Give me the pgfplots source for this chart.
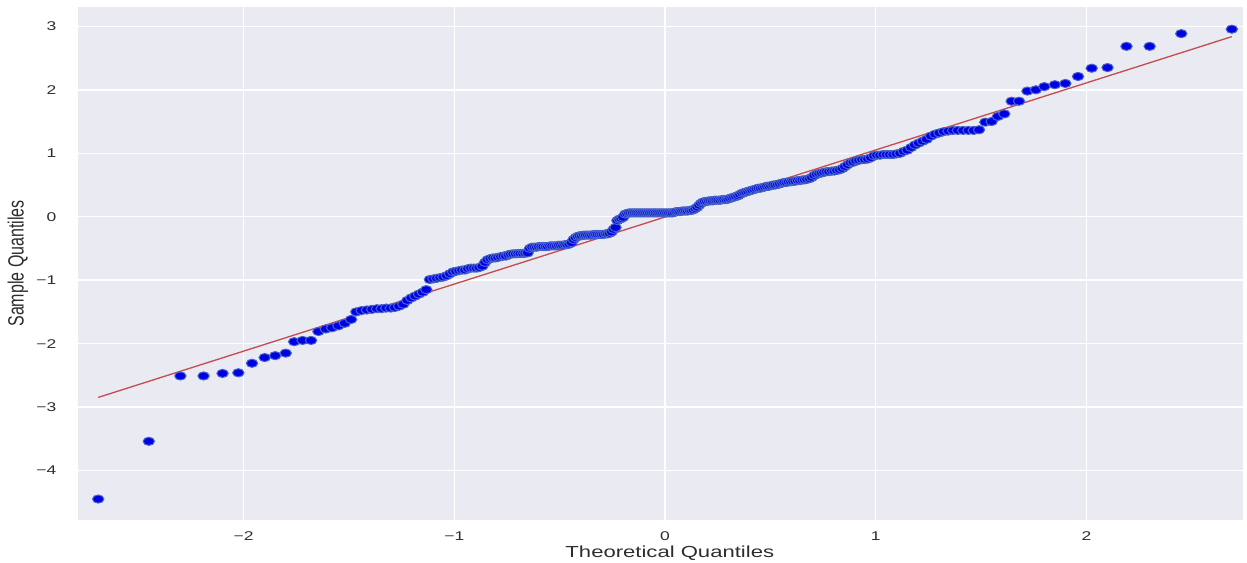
\documentclass[border=0pt]{standalone}
\usepackage{fontspec}
\setmainfont{Liberation Sans}
\usepackage{pgfplots}
\usepackage{pgfplotstable}
\pgfplotsset{compat=1.18}
\definecolor{bgc}{RGB}{234,234,242}
\definecolor{linec}{RGB}{196,78,82}
\definecolor{facec}{RGB}{0,0,230}
\definecolor{edgec}{RGB}{70,100,200}
\definecolor{txtc}{RGB}{45,45,45}
\pgfplotstableread{
x y
-2.690 -4.45
-2.450 -3.54
-2.300 -2.51
-2.190 -2.51
-2.100 -2.47
-2.025 -2.46
-1.960 -2.31
-1.900 -2.22
-1.850 -2.19
-1.800 -2.15
-1.760 -1.97
-1.720 -1.95
-1.680 -1.95
-1.645 -1.81
-1.610 -1.77
-1.580 -1.75
-1.550 -1.72
-1.520 -1.68
-1.490 -1.62
-1.465 -1.50
-1.440 -1.48
-1.415 -1.47
-1.390 -1.46
-1.367 -1.45
-1.345 -1.45
-1.323 -1.44
-1.302 -1.44
-1.282 -1.43
-1.262 -1.41
-1.242 -1.38
-1.223 -1.32
-1.204 -1.28
-1.186 -1.25
-1.168 -1.22
-1.150 -1.19
-1.133 -1.15
-1.116 -0.99
-1.099 -0.98
-1.083 -0.97
-1.067 -0.96
-1.052 -0.95
-1.036 -0.93
-1.021 -0.90
-1.006 -0.87
-0.992 -0.86
-0.977 -0.85
-0.963 -0.84
-0.949 -0.84
-0.935 -0.82
-0.921 -0.81
-0.907 -0.81
-0.894 -0.81
-0.881 -0.80
-0.867 -0.78
-0.854 -0.72
-0.842 -0.68
-0.829 -0.66
-0.816 -0.65
-0.804 -0.65
-0.792 -0.64
-0.779 -0.63
-0.767 -0.62
-0.755 -0.62
-0.743 -0.60
-0.732 -0.59
-0.720 -0.585
-0.708 -0.585
-0.697 -0.58
-0.686 -0.58
-0.674 -0.58
-0.663 -0.575
-0.652 -0.57
-0.641 -0.50
-0.630 -0.48
-0.619 -0.48
-0.608 -0.48
-0.598 -0.47
-0.587 -0.47
-0.577 -0.47
-0.566 -0.47
-0.556 -0.47
-0.545 -0.46
-0.535 -0.46
-0.524 -0.46
-0.514 -0.46
-0.504 -0.45
-0.494 -0.45
-0.484 -0.45
-0.474 -0.44
-0.464 -0.44
-0.454 -0.43
-0.444 -0.41
-0.434 -0.36
-0.424 -0.33
-0.414 -0.31
-0.405 -0.30
-0.395 -0.30
-0.385 -0.29
-0.376 -0.29
-0.366 -0.29
-0.356 -0.29
-0.347 -0.29
-0.337 -0.28
-0.328 -0.28
-0.319 -0.28
-0.309 -0.28
-0.300 -0.28
-0.291 -0.28
-0.281 -0.27
-0.272 -0.27
-0.263 -0.26
-0.253 -0.24
-0.244 -0.20
-0.235 -0.17
-0.226 -0.06
-0.217 -0.04
-0.208 -0.03
-0.199 -0.01
-0.189 0.04
-0.180 0.05
-0.171 0.06
-0.162 0.06
-0.153 0.06
-0.144 0.06
-0.135 0.06
-0.126 0.06
-0.117 0.06
-0.108 0.06
-0.099 0.06
-0.090 0.06
-0.081 0.06
-0.072 0.06
-0.063 0.06
-0.054 0.06
-0.045 0.06
-0.036 0.06
-0.027 0.06
-0.018 0.06
-0.009 0.06
0.000 0.06
0.009 0.06
0.018 0.06
0.027 0.06
0.036 0.06
0.045 0.07
0.054 0.08
0.063 0.08
0.072 0.08
0.081 0.09
0.090 0.09
0.099 0.09
0.108 0.09
0.117 0.10
0.126 0.10
0.135 0.11
0.144 0.13
0.153 0.15
0.162 0.18
0.171 0.21
0.180 0.23
0.189 0.24
0.199 0.24
0.208 0.25
0.217 0.25
0.226 0.25
0.235 0.26
0.244 0.26
0.253 0.26
0.263 0.26
0.272 0.27
0.281 0.27
0.291 0.27
0.300 0.28
0.309 0.29
0.319 0.30
0.328 0.31
0.337 0.32
0.347 0.33
0.356 0.35
0.366 0.37
0.376 0.38
0.385 0.39
0.395 0.40
0.405 0.41
0.414 0.42
0.424 0.43
0.434 0.44
0.444 0.45
0.454 0.45
0.464 0.46
0.474 0.47
0.484 0.48
0.494 0.48
0.504 0.49
0.514 0.50
0.524 0.50
0.535 0.51
0.545 0.52
0.556 0.53
0.566 0.54
0.577 0.54
0.587 0.55
0.598 0.55
0.608 0.56
0.619 0.56
0.630 0.57
0.641 0.57
0.652 0.58
0.663 0.58
0.674 0.59
0.686 0.60
0.697 0.62
0.708 0.65
0.720 0.67
0.732 0.68
0.743 0.69
0.755 0.70
0.767 0.71
0.779 0.71
0.792 0.72
0.804 0.72
0.816 0.73
0.829 0.74
0.842 0.76
0.854 0.79
0.867 0.82
0.881 0.85
0.894 0.86
0.907 0.88
0.921 0.89
0.935 0.90
0.949 0.90
0.963 0.91
0.977 0.93
0.992 0.96
1.006 0.97
1.021 0.97
1.036 0.98
1.052 0.98
1.067 0.98
1.083 0.98
1.099 0.99
1.116 1.00
1.133 1.03
1.150 1.05
1.168 1.09
1.186 1.13
1.204 1.16
1.223 1.19
1.242 1.22
1.262 1.27
1.282 1.30
1.302 1.32
1.323 1.34
1.345 1.35
1.367 1.36
1.390 1.36
1.415 1.36
1.440 1.36
1.465 1.36
1.490 1.37
1.520 1.49
1.550 1.50
1.580 1.58
1.610 1.62
1.645 1.82
1.680 1.82
1.720 1.98
1.760 2.00
1.800 2.05
1.850 2.08
1.900 2.10
1.960 2.21
2.025 2.34
2.100 2.35
2.190 2.685
2.300 2.685
2.450 2.885
2.690 2.955
}\qq
\pgfplotstableread{
x y
-2.690 -2.848
2.690 2.838
}\fitline
\begin{document}
\begin{tikzpicture}
\begin{axis}[
  scale only axis,
  width=873.75pt, height=384.75pt,
  xmin=-2.786, xmax=2.743,
  ymin=-4.78, ymax=3.305,
  axis background/.style={fill=bgc},
  axis line style={draw=none},
  major tick length=0pt,
  tick style={draw=none},
  grid=major,
  major grid style={white, line width=1.1pt},
  xtick={-2,-1,0,1,2},
  xticklabels={−2,−1,0,1,2},
  ytick={-4,-3,-2,-1,0,1,2,3},
  yticklabels={−4,−3,−2,−1,0,1,2,3},
  xticklabel style={text=txtc, font=\fontsize{9.5}{11}\selectfont, anchor=center, inner sep=0pt, yshift=-12pt, xscale=1.38},
  yticklabel style={text=txtc, font=\fontsize{9.5}{11}\selectfont, anchor=east, inner sep=0pt, xshift=-16pt, xscale=1.38},
  xlabel={Theoretical Quantiles},
  ylabel={Sample Quantiles},
  xlabel style={at={(axis description cs:0.508,-0.064)}, anchor=center, inner sep=0pt, text=txtc, font=\fontsize{12}{14}\selectfont, xscale=1.38},
  ylabel style={at={(axis description cs:-0.0515,0.5)}, anchor=center, inner sep=0pt, text=txtc, font=\fontsize{12}{14}\selectfont, yscale=1.38},
  clip=false,
]
\addplot[only marks, mark=*, mark size=3.05pt, mark options={fill=facec, draw=edgec, line width=0.75pt, xscale=1.4}] table[x=x,y=y] {\qq};
\addplot[linec, line width=1pt] table[x=x,y=y] {\fitline};
\end{axis}
\pgfresetboundingbox
\path ([xshift=-58.5pt,yshift=-32.25pt]current axis.south west) rectangle ([xshift=3pt,yshift=5.25pt]current axis.north east);
\end{tikzpicture}
\end{document}
